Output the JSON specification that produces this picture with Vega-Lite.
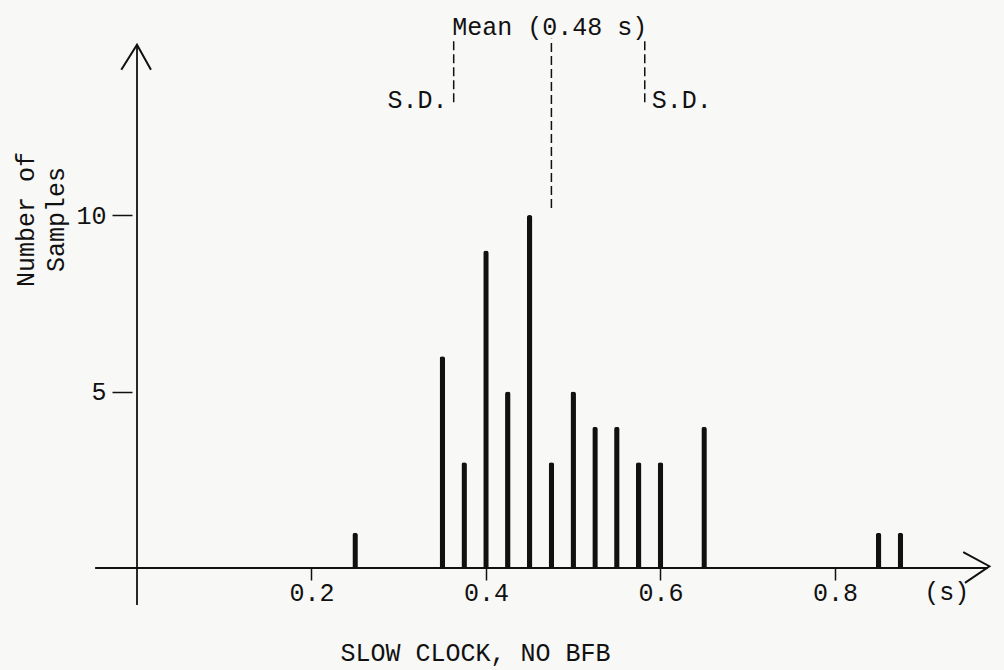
{
  "$schema": "https://vega.github.io/schema/vega-lite/v6.json",
  "width": 865,
  "height": 547,
  "autosize": {"type": "none"},
  "padding": {"left": 132, "top": 21, "right": 7, "bottom": 102},
  "background": "#f8f8f6",
  "config": {
    "view": {"stroke": null},
    "font": "Liberation Mono",
    "text": {"font": "Liberation Mono"}
  },
  "datasets": {
    "counts": [
      {"t": 0.25, "n": 1},
      {"t": 0.35, "n": 6},
      {"t": 0.375, "n": 3},
      {"t": 0.4, "n": 9},
      {"t": 0.425, "n": 5},
      {"t": 0.45, "n": 10},
      {"t": 0.475, "n": 3},
      {"t": 0.5, "n": 5},
      {"t": 0.525, "n": 4},
      {"t": 0.55, "n": 4},
      {"t": 0.575, "n": 3},
      {"t": 0.6, "n": 3},
      {"t": 0.65, "n": 4},
      {"t": 0.85, "n": 1},
      {"t": 0.875, "n": 1}
    ],
    "axislines": [
      {"x": -0.048, "x2": 0.975, "y": 0, "y2": 0},
      {"x": 0, "x2": 0, "y": -1.05, "y2": 14.83}
    ],
    "arrows": [
      {"g": "y", "s": 1, "x": -0.018, "y": 14.12},
      {"g": "y", "s": 2, "x": 0, "y": 14.83},
      {"g": "y", "s": 3, "x": 0.016, "y": 14.12},
      {"g": "x", "s": 1, "x": 0.947, "y": 0.45},
      {"g": "x", "s": 2, "x": 0.977, "y": 0.05},
      {"g": "x", "s": 3, "x": 0.949, "y": -0.42}
    ],
    "marks": [
      {"x": 0.475, "y": 10.2, "y2": 15.0},
      {"x": 0.363, "y": 13.2, "y2": 15.0},
      {"x": 0.582, "y": 13.2, "y2": 15.0}
    ],
    "labels": [
      {"x": 0.473, "y": 15.34, "label": "Mean (0.48 s)"},
      {"x": 0.3214, "y": 13.27, "label": "S.D."},
      {"x": 0.6244, "y": 13.27, "label": "S.D."},
      {"x": 0.928, "y": -0.68, "label": "(s)"}
    ]
  },
  "layer": [
    {
      "data": {"name": "counts"},
      "mark": {"type": "bar", "size": 5.5, "color": "#111111", "cornerRadiusEnd": 2.5},
      "encoding": {
        "x": {
          "field": "t",
          "type": "quantitative",
          "scale": {"domain": [0, 0.98], "nice": false, "zero": false},
          "axis": {
            "values": [0.2, 0.4, 0.6, 0.8],
            "format": ".1f",
            "domain": false,
            "grid": false,
            "tickSize": 12,
            "tickWidth": 1.5,
            "tickColor": "#111111",
            "labelFontSize": 25,
            "labelFont": "Liberation Mono",
            "labelColor": "#111111",
            "labelPadding": 0,
            "title": "SLOW CLOCK, NO BFB",
            "titleFont": "Liberation Mono",
            "titleFontSize": 25,
            "titleFontWeight": "normal",
            "titleColor": "#111111",
            "titleX": 343,
            "titleY": 84,
            "titleAlign": "center",
            "titleBaseline": "middle"
          }
        },
        "y": {
          "field": "n",
          "type": "quantitative",
          "scale": {"domain": [0, 15.5], "nice": false, "zero": false},
          "axis": {
            "values": [5, 10],
            "domain": false,
            "grid": false,
            "tickSize": 20,
            "tickWidth": 1.5,
            "tickColor": "#111111",
            "labelFontSize": 25,
            "labelFont": "Liberation Mono",
            "labelColor": "#111111",
            "labelPadding": 6,
            "title": ["Number of", "Samples"],
            "titleFont": "Liberation Mono",
            "titleFontSize": 25,
            "titleFontWeight": "normal",
            "titleColor": "#111111",
            "titleAngle": 270,
            "titleX": -107,
            "titleY": 198,
            "titleAlign": "center",
            "titleBaseline": "middle",
            "titleLineHeight": 30
          }
        }
      }
    },
    {
      "data": {"name": "axislines"},
      "mark": {"type": "rule", "color": "#111111", "strokeWidth": 1.8},
      "encoding": {
        "x": {"field": "x", "type": "quantitative"},
        "x2": {"field": "x2"},
        "y": {"field": "y", "type": "quantitative"},
        "y2": {"field": "y2"}
      }
    },
    {
      "data": {"name": "arrows"},
      "mark": {"type": "line", "color": "#111111", "strokeWidth": 2},
      "encoding": {
        "x": {"field": "x", "type": "quantitative"},
        "y": {"field": "y", "type": "quantitative"},
        "detail": {"field": "g"},
        "order": {"field": "s", "type": "quantitative"}
      }
    },
    {
      "data": {"name": "marks"},
      "mark": {"type": "rule", "color": "#111111", "strokeWidth": 1.5, "strokeDash": [9, 4]},
      "encoding": {
        "x": {"field": "x", "type": "quantitative"},
        "y": {"field": "y", "type": "quantitative"},
        "y2": {"field": "y2"}
      }
    },
    {
      "data": {"name": "labels"},
      "mark": {"type": "text", "color": "#111111", "fontSize": 25, "font": "Liberation Mono", "align": "center", "baseline": "middle"},
      "encoding": {
        "x": {"field": "x", "type": "quantitative"},
        "y": {"field": "y", "type": "quantitative"},
        "text": {"field": "label"}
      }
    }
  ]
}
